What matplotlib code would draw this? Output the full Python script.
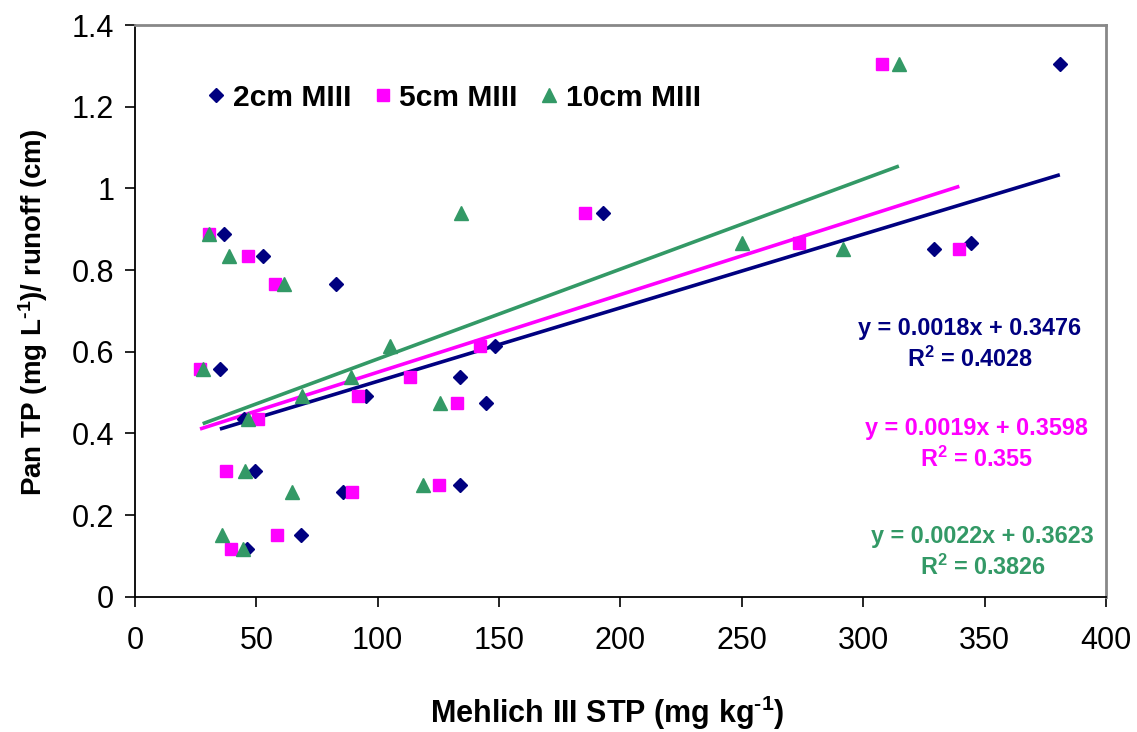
import matplotlib
matplotlib.use("Agg")
import matplotlib.pyplot as plt
import numpy as np
from matplotlib.ticker import FuncFormatter

plt.rcParams["font.family"] = ["Liberation Sans", "DejaVu Sans"]
plt.rcParams["mathtext.fontset"] = "custom"
plt.rcParams["mathtext.rm"] = "Liberation Sans:bold"
plt.rcParams["mathtext.bf"] = "Liberation Sans:bold"
plt.rcParams["mathtext.it"] = "Liberation Sans:bold"

# Runoff-normalised pan TP shared by all three sampling depths
pan_tp = [1.305, 0.940, 0.888, 0.866, 0.852, 0.835, 0.766, 0.614, 0.557,
          0.539, 0.492, 0.474, 0.435, 0.309, 0.274, 0.257, 0.152, 0.118]

# Mehlich III soil test P (mg/kg) for each depth
stp_2cm = [381.0, 192.8, 36.6, 344.2, 329.0, 52.6, 82.7, 148.2, 35.0,
           133.8, 95.0, 144.8, 45.0, 49.3, 133.8, 85.8, 68.5, 46.2]
stp_5cm = [307.8, 185.3, 30.6, 273.5, 339.6, 46.5, 57.6, 142.3, 26.8,
           113.2, 92.0, 132.6, 50.8, 37.7, 125.3, 89.6, 58.5, 39.4]
stp_10cm = [314.7, 134.3, 30.3, 250.0, 291.6, 38.8, 61.3, 105.0, 27.9,
            89.2, 69.0, 125.8, 46.5, 45.3, 118.7, 64.5, 35.8, 44.6]

series_names = ["2cm MIII", "5cm MIII", "10cm MIII"]
slopes = [0.0018, 0.0019, 0.0022]
intercepts = [0.3476, 0.3598, 0.3623]
r_squared = ["0.4028", "0.355", "0.3826"]

x_ticks = [0, 50, 100, 150, 200, 250, 300, 350, 400]
y_ticks = [0, 0.2, 0.4, 0.6, 0.8, 1.0, 1.2, 1.4]

colors = ["#000080", "#FF00FF", "#339966"]
markers = ["D", "s", "^"]
msizes = [7.2, 8.4, 10.0]

fig = plt.figure(figsize=(11.37, 7.32), dpi=100)
ax = fig.add_axes([0.1187, 0.1848, 0.8540, 0.7810])

xs_all = [stp_2cm, stp_5cm, stp_10cm]
for xs, name, c, m, ms in zip(xs_all, series_names, colors, markers, msizes):
    ax.plot(xs, pan_tp, linestyle="none", marker=m, ms=ms, color=c,
            markeredgecolor=c, label=name, zorder=3)

# Linear trend lines over each series' observed range
for xs, b1, b0, c in zip(xs_all, slopes, intercepts, colors):
    xl = np.array([min(xs), max(xs)])
    ax.plot(xl, b1 * xl + b0, color=c, lw=2.6, zorder=2, solid_capstyle="butt")

# Regression equations (axes fractions of the R^2 line; equation sits above)
eq_pos = [(0.860, 0.416), (0.867, 0.241), (0.873, 0.052)]
for (px, py), b1, b0, r2, c in zip(eq_pos, slopes, intercepts, r_squared, colors):
    ax.text(px, py + 0.054, f"y = {b1:.4f}x + {b0:.4f}", transform=ax.transAxes,
            ha="center", va="center", fontsize=16.8, fontweight="bold", color=c)
    ax.text(px, py, f"R$^2$ = {r2}", transform=ax.transAxes,
            ha="center", va="center", fontsize=16.8, fontweight="bold", color=c)

ax.set_xlim(0, 400)
ax.set_ylim(0, 1.4)
ax.set_xticks(x_ticks)
ax.set_yticks(y_ticks)
ax.yaxis.set_major_formatter(FuncFormatter(lambda v, p: f"{v:g}"))
ax.tick_params(axis="both", direction="out", length=7, width=1.2, labelsize=22)
ax.tick_params(axis="x", pad=14)
ax.tick_params(axis="y", pad=8)

for side in ["left", "bottom"]:
    ax.spines[side].set_color("black")
    ax.spines[side].set_linewidth(1.3)
for side in ["top", "right"]:
    ax.spines[side].set_color("#888888")
    ax.spines[side].set_linewidth(2)

ax.set_xlabel(r"Mehlich III STP (mg kg$^{\text{-1}}$)", fontsize=22,
              fontweight="bold")
ax.xaxis.set_label_coords(0.486, -0.170)
ax.set_ylabel(r"Pan TP (mg L$^{\text{-1}}$)/ runoff (cm)", fontsize=20,
              fontweight="bold")
ax.yaxis.set_label_coords(-0.087, 0.497)

ax.legend(loc="upper left", bbox_to_anchor=(0.056, 0.918), ncol=3, frameon=False,
          prop={"size": 21.6, "weight": "bold"}, handletextpad=0.05,
          columnspacing=0.55, handlelength=1.0, borderaxespad=0)

fig.savefig("out.png", dpi=100, facecolor="white")
